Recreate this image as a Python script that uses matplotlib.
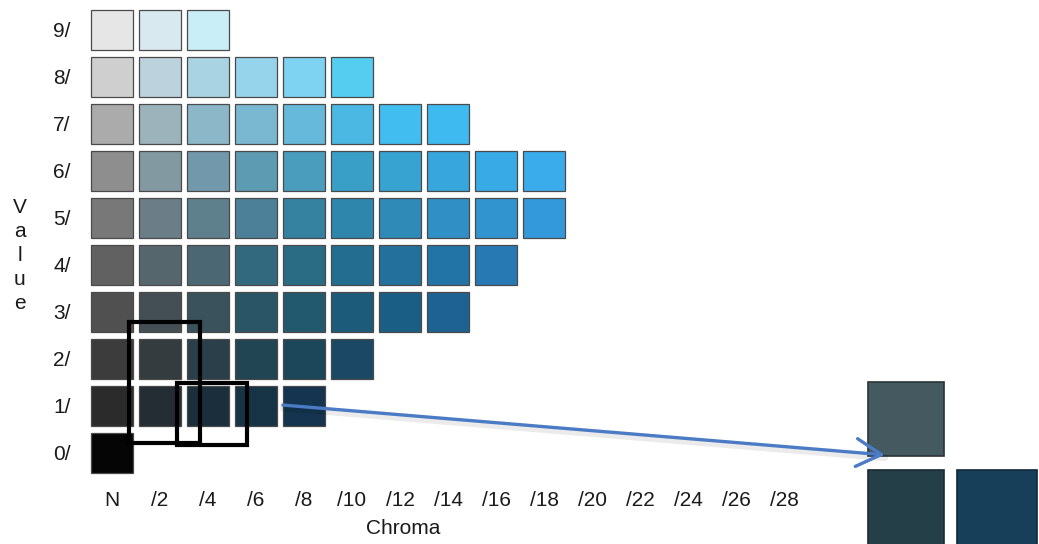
import matplotlib.pyplot as plt
from matplotlib.patches import Rectangle

plt.rcParams['font.family'] = ['Liberation Sans', 'DejaVu Sans']

# Munsell-style chips, one list per value row (from N outwards in chroma)
chroma_labels = ['N', '/2', '/4', '/6', '/8', '/10', '/12', '/14', '/16', '/18',
                 '/20', '/22', '/24', '/26', '/28']
value_labels = ['0/', '1/', '2/', '3/', '4/', '5/', '6/', '7/', '8/', '9/']

row_9 = ['#e6e6e6', '#d8e9f0', '#c9eef8']
row_8 = ['#cfcfcf', '#bcd2dc', '#a9d3e3', '#96d4ec', '#7fd3f2', '#55cdf0']
row_7 = ['#ababab', '#9db3bb', '#8bb7c8', '#79b8d0', '#66b9da', '#4ab8e2', '#42bdf0', '#3fbaf0']
row_6 = ['#8e8e8e', '#8399a1', '#7299ab', '#5d9bb3', '#4a9dbc', '#3a9fc7', '#36a3d1', '#36a6dd',
         '#38aae6', '#3aacec']
row_5 = ['#787878', '#6b7d86', '#5e7f8c', '#4b8098', '#3581a0', '#2f86ad', '#2f8ab8', '#3090c6',
         '#3294cf', '#3499db']
row_4 = ['#616161', '#56666d', '#4b6773', '#33697e', '#2b6c85', '#236d91', '#22709b', '#2374a6',
         '#2779b4']
row_3 = ['#505050', '#444f55', '#3a525c', '#2a5566', '#22596e', '#1d5b7b', '#1b5e85', '#1e6293']
row_2 = ['#3c3c3c', '#343c40', '#2a3f49', '#214552', '#1c4659', '#1b4865']
row_1 = ['#2b2b2b', '#232d33', '#1a2f3b', '#163446', '#14344f']
row_0 = ['#050505']
rows = [row_0, row_1, row_2, row_3, row_4, row_5, row_6, row_7, row_8, row_9]

# enlarged chips on the right
inset_colors = ['#445960', '#253f48', '#183f59']

fig = plt.figure(figsize=(10.39, 5.44), dpi=100)
ax = fig.add_axes([0, 0, 1, 1])
# one chroma step = 48 px, one value step = 47 px
ax.set_xlim(-112 / 48, (1039 - 112) / 48)
ax.set_ylim((453 - 544) / 47, 453 / 47)
ax.axis('off')

cw, ch = 0.875, 0.872
for v, row in enumerate(rows):
    for c, col in enumerate(row):
        ax.add_patch(Rectangle((c - cw / 2, v - ch / 2), cw, ch, facecolor=col,
                               edgecolor='#4a4a4a', lw=0.9))

txt = dict(fontsize=15, color='#1a1a1a')

# axis labels
for v, lab in enumerate(value_labels):
    ax.text(-0.86, v - 0.04, lab, ha='right', va='center', **txt)
for c, lab in enumerate(chroma_labels):
    ax.text(c, -1.0, lab, ha='center', va='center', **txt)
ax.text(6.06, -1.6, 'Chroma', ha='center', va='center', **txt)
for i, letter in enumerate('Value'):
    ax.text(-1.92, 5.22 - i * 0.51, letter, ha='center', va='center', **txt)

# black outline boxes
ax.add_patch(Rectangle((0.36, 0.21), 1.47, 2.58, fill=False, edgecolor='black', lw=3))
ax.add_patch(Rectangle((1.36, 0.17), 1.45, 1.32, fill=False, edgecolor='black', lw=3))

# arrow to the enlarged chips (with a faint shadow)
ax.annotate('', xy=(16.1, -0.1), xytext=(3.56, 0.96),
            arrowprops=dict(arrowstyle='-', color='#000000', alpha=0.08, lw=5,
                            shrinkA=0, shrinkB=0))
ax.annotate('', xy=(16.1, -0.04), xytext=(3.56, 1.02),
            arrowprops=dict(arrowstyle='->, head_length=0.9, head_width=0.5',
                            color='#4a7bc4', lw=2.4, mutation_scale=20,
                            shrinkA=0, shrinkB=0))

ax.add_patch(Rectangle((15.75, -0.06), 1.58, 1.57, facecolor=inset_colors[0],
                       edgecolor='#2a3438', lw=1.2))
ax.add_patch(Rectangle((15.75, -2.0), 1.58, 1.64, facecolor=inset_colors[1],
                       edgecolor='#1a2a30', lw=1.2))
ax.add_patch(Rectangle((17.6, -2.0), 1.67, 1.64, facecolor=inset_colors[2],
                       edgecolor='#10283a', lw=1.2))

fig.savefig('out.png', dpi=100)
